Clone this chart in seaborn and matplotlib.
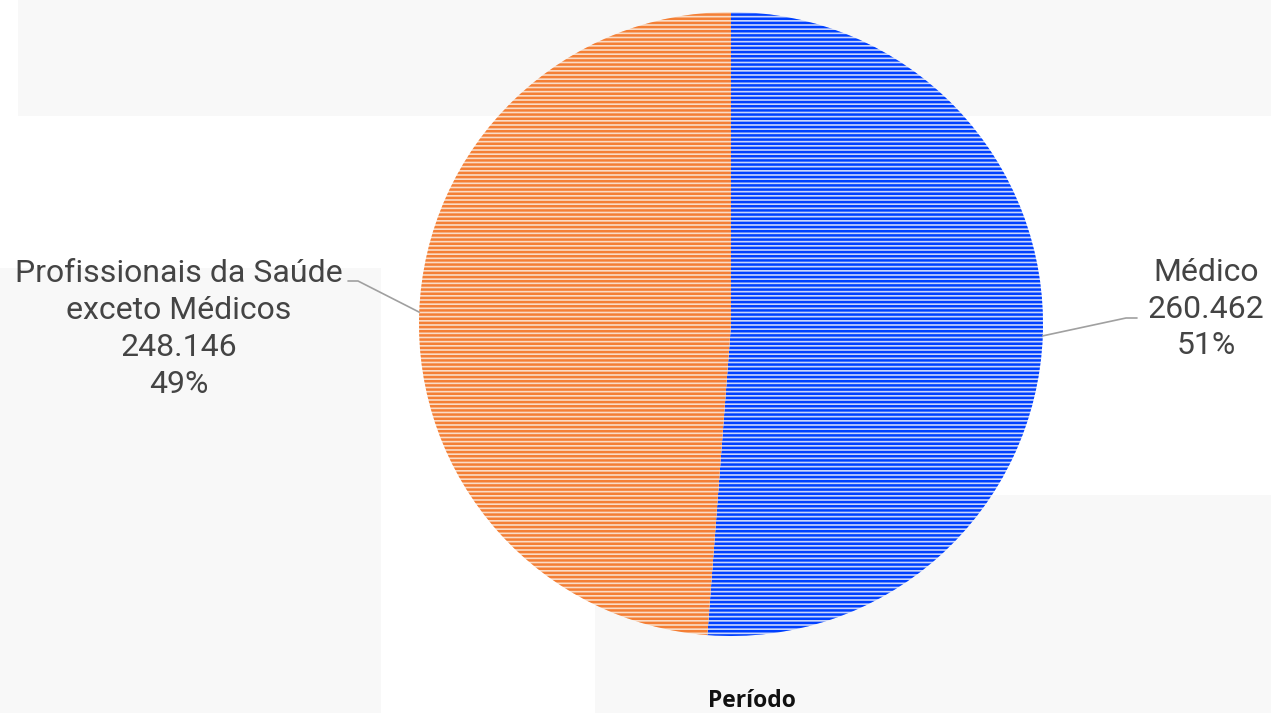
## importando bibliotecas
import numpy as np
import matplotlib.pyplot as plt
import seaborn as sns
from matplotlib.patches import Rectangle

## dados do grafico
categorias = ['Médico', 'Profissionais da Saúde\nexceto Médicos']
valores = [260462, 248146]
cores_linha = ['#0040ff', '#f47f35']
cores_fundo = ['#c9d5fb', '#fadcc6']
titulo_eixo = 'Período'

## tema
sns.set_theme(style='white')
plt.rcParams['font.family'] = ['Roboto', 'DejaVu Sans']
plt.rcParams['hatch.linewidth'] = 1.8

W, H = 1271, 713
cx, cy, r = 731, 324, 312

fig = plt.figure(figsize=(W / 100, H / 100), dpi=100)
fig.patch.set_facecolor('white')
ax = fig.add_axes([0, 0, 1, 1])


def px(x, y):
    ## converte pixel da imagem para coordenadas do eixo
    return (x - cx) / r, (cy - y) / r


## retangulos cinza claro do painel ao fundo
for x0, y0, x1, y1 in [(18, 0, W, 116), (0, 268, 381, H), (595, 495, W, H)]:
    (a, b), (c, d) = px(x0, y1), px(x1, y0)
    ax.add_patch(Rectangle((a, b), c - a, d - b, facecolor='#f8f8f8',
                           edgecolor='none', zorder=0))

## grafico de pizza com listras horizontais
wedges, _ = ax.pie(valores, startangle=90, counterclock=False, radius=1,
                   wedgeprops=dict(linewidth=0))
for w, cl, cf in zip(wedges, cores_linha, cores_fundo):
    w.set_facecolor(cf)
    w.set_edgecolor(cl)
    w.set_hatch('----')
    w.set_zorder(2)

## limites depois do pie (o pie redefine os limites)
ax.set_xlim(-cx / r, (W - cx) / r)
ax.set_ylim(-(H - cy) / r, cy / r)
ax.set_aspect('equal')
ax.axis('off')

## rotulos com valor e percentual
total = sum(valores)
pos_texto = [(1206, 309), (179, 329)]
for w, cat, v, (tx, ty) in zip(wedges, categorias, valores, pos_texto):
    pct = round(100 * v / total)
    txt = f"{cat}\n{v:,}".replace(',', '.') + f"\n{pct}%"
    x, y = px(tx, ty)
    ax.text(x, y, txt, ha='center', va='center', multialignment='center',
            fontsize=23, color='#444444', linespacing=1.34, zorder=3)

    ## linha guia saindo do meio da fatia
    ang = np.deg2rad((w.theta1 + w.theta2) / 2)
    ex, ey = np.cos(ang), np.sin(ang)
    if ex > 0:
        k1, k2 = px(1126, 318), px(1137, 318)
    else:
        k1, k2 = px(358, 281), px(348, 281)
    ax.plot([ex, k1[0], k2[0]], [ey, k1[1], k2[1]], color='#a0a0a0',
            linewidth=1.2, zorder=3)

## titulo do eixo
x, y = px(752, 701)
ax.text(x, y, titulo_eixo, ha='center', va='center', fontsize=16.5,
        fontweight='bold', color='#111111', family=['Open Sans', 'DejaVu Sans'])

## salvando
plt.savefig('out.png', dpi=100)
plt.close()
